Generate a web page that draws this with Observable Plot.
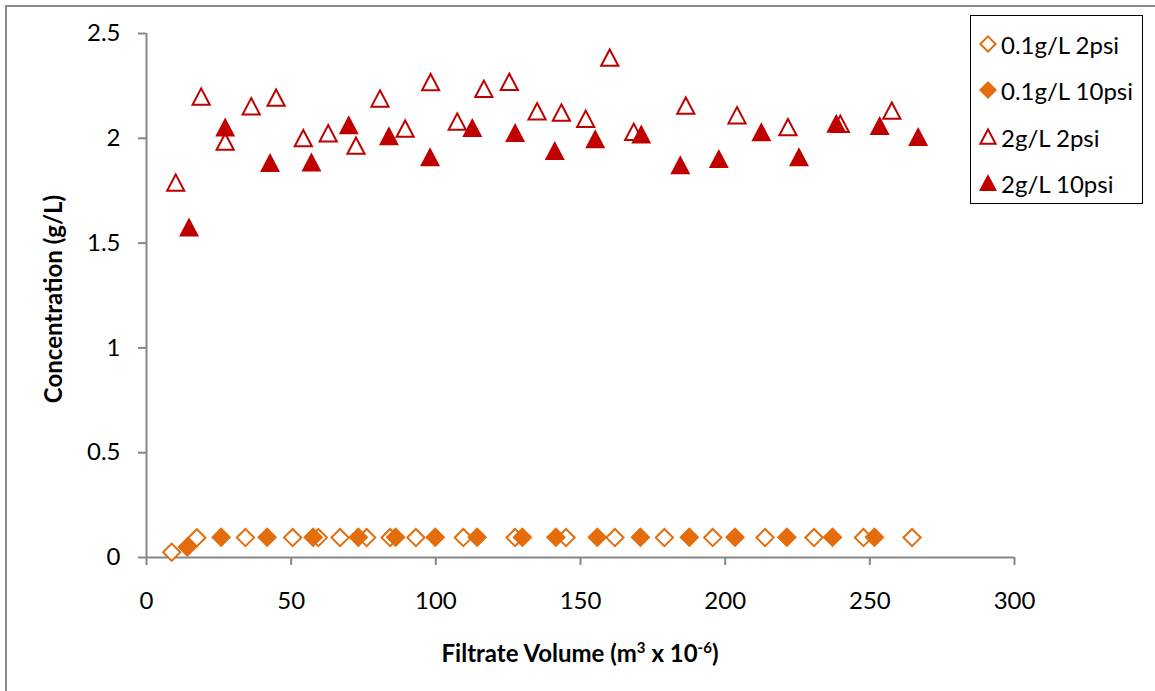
<!DOCTYPE html>
<html>
<head>
<meta charset="utf-8">
<script src="https://cdn.jsdelivr.net/npm/d3@7"></script>
<script src="https://cdn.jsdelivr.net/npm/@observablehq/plot@0.6"></script>
<style>
  body { margin: 0; background: #fff; }
  #wrap { position: relative; width: 1155px; height: 691px; font-family: Lato, "Open Sans", sans-serif; overflow: hidden; }
  #edge { position: absolute; left: 5px; top: 5px; right: -4px; bottom: -4px; border-left: 2px solid #8a8a8a; border-top: 2px solid #8a8a8a; }
  #chart { position: absolute; left: 0; top: 0; }
  #legend { position: absolute; left: 970px; top: 15px; width: 173px; height: 189px; box-sizing: border-box; border: 1.5px solid #000; background: #fff; }
  .row { position: absolute; left: 0; height: 30px; display: flex; align-items: center; font-size: 24px; color: #000; white-space: nowrap; }
  .row svg { margin-left: 8px; margin-right: 4px; overflow: visible; }
</style>
</head>
<body>
<div id="wrap">
  <div id="edge"></div>
  <div id="chart"></div>
  <div id="legend"></div>
</div>
<script>
// Filtrate volume (m^3 x 10^-6) and permeate concentration (g/L) for each run
const vol_01_2psi  = [8.7, 17.4, 34.2, 50.5, 59.4, 66.9, 76.1, 84.2, 93.1, 109.5, 127.4, 145.0, 161.9, 179.0, 195.7, 213.8, 230.7, 247.8, 264.6];
const conc_01_2psi = [0.025, 0.094, 0.095, 0.095, 0.095, 0.095, 0.095, 0.095, 0.095, 0.095, 0.095, 0.095, 0.095, 0.095, 0.095, 0.095, 0.095, 0.095, 0.095];

const vol_01_10psi  = [14.1, 25.8, 41.7, 57.6, 73.2, 86.1, 99.8, 114.3, 129.9, 141.5, 155.8, 170.7, 187.6, 203.4, 221.3, 237.1, 251.6];
const conc_01_10psi = [0.05, 0.097, 0.097, 0.097, 0.097, 0.097, 0.097, 0.097, 0.097, 0.097, 0.097, 0.097, 0.097, 0.097, 0.097, 0.097, 0.097];

const vol_2_2psi  = [10.1, 18.9, 27.2, 36.2, 44.8, 54.2, 62.8, 72.4, 80.7, 89.4, 98.2, 107.4, 116.6, 125.4, 135.0, 143.4, 151.8, 160.1, 168.4, 186.4, 204.1, 221.7, 239.8, 257.6];
const conc_2_2psi = [1.787, 2.197, 1.982, 2.151, 2.192, 1.999, 2.022, 1.963, 2.188, 2.044, 2.266, 2.078, 2.234, 2.267, 2.127, 2.121, 2.091, 2.383, 2.029, 2.154, 2.108, 2.051, 2.067, 2.130];

const vol_2_10psi  = [14.7, 27.2, 42.7, 57.0, 69.9, 83.8, 98.0, 112.6, 127.4, 141.1, 155.1, 171.0, 184.5, 197.8, 212.5, 225.5, 238.4, 253.4, 266.7];
const conc_2_10psi = [1.574, 2.051, 1.882, 1.884, 2.062, 2.010, 1.909, 2.049, 2.025, 1.939, 1.995, 2.018, 1.871, 1.901, 2.029, 1.909, 2.070, 2.059, 2.006];

const seriesNames = ["0.1g/L 2psi", "0.1g/L 10psi", "2g/L 2psi", "2g/L 10psi"];
const xTicks = [0, 50, 100, 150, 200, 250, 300];
const yTicks = [0, 0.5, 1, 1.5, 2, 2.5];

const ORANGE = "#E46C0A";
const RED = "#C00000";
const AXIS = "#868686";

// Marker shapes: r is the half-width of the glyph
const triangle = {
  draw(ctx, size) {
    const r = Math.sqrt(size / Math.PI);
    ctx.moveTo(0, -r);
    ctx.lineTo(r, 0.9 * r);
    ctx.lineTo(-r, 0.9 * r);
    ctx.closePath();
  }
};
const diamond = {
  draw(ctx, size) {
    const r = Math.sqrt(size / Math.PI);
    ctx.moveTo(0, -r);
    ctx.lineTo(r, 0);
    ctx.lineTo(0, r);
    ctx.lineTo(-r, 0);
    ctx.closePath();
  }
};

const toRows = (xs, ys) => xs.map((v, i) => ({volume: v, conc: ys[i]}));

const styles = [
  {data: toRows(vol_01_2psi, conc_01_2psi),   symbol: diamond,  color: ORANGE, open: true},
  {data: toRows(vol_01_10psi, conc_01_10psi), symbol: diamond,  color: ORANGE, open: false},
  {data: toRows(vol_2_2psi, conc_2_2psi),     symbol: triangle, color: RED,    open: true},
  {data: toRows(vol_2_10psi, conc_2_10psi),   symbol: triangle, color: RED,    open: false}
];

const dotMark = s => Plot.dot(s.data, {
  x: "volume", y: "conc", symbol: () => s.symbol,
  r: s.open ? 8.6 : 10,
  fill: s.open ? "#fff" : s.color,
  stroke: s.open ? s.color : "none",
  strokeWidth: s.open ? 2 : 0
});

const chart = Plot.plot({
  width: 1155,
  height: 691,
  marginLeft: 146,
  marginRight: 141,
  marginTop: 33,
  marginBottom: 134,
  x: {domain: [0, 300]},
  y: {domain: [0, 2.5]},
  symbol: {type: "identity"},
  style: {fontFamily: "Lato, 'Open Sans', sans-serif", fontSize: "24px", color: "#000", background: "transparent"},
  marks: [
    Plot.axisY({ticks: yTicks, tickFormat: d => String(d), tickSize: 8, tickPadding: 18, label: null, stroke: AXIS, strokeWidth: 2, fill: "#000"}),
    Plot.axisX({ticks: xTicks, tickFormat: d => String(d), tickSize: 8, tickPadding: 26, label: null, stroke: AXIS, strokeWidth: 2, fill: "#000"}),
    Plot.ruleX([0], {stroke: AXIS, strokeWidth: 2}),
    Plot.ruleY([0], {stroke: AXIS, strokeWidth: 2}),
    ...styles.map(dotMark)
  ]
});

document.getElementById("chart").appendChild(chart);

// Axis titles with superscripts
const svg = d3.select(chart);
const xr = chart.scale("x").range;
const yr = chart.scale("y").range;

const xt = svg.append("text")
  .attr("x", (xr[0] + xr[1]) / 2)
  .attr("y", 662)
  .attr("text-anchor", "middle")
  .attr("font-weight", "bold")
  .attr("font-size", 24)
  .attr("fill", "#000");
xt.append("tspan").text("Filtrate Volume (m");
xt.append("tspan").attr("dy", -9).attr("font-size", 15).text("3");
xt.append("tspan").attr("dy", 9).text(" x 10");
xt.append("tspan").attr("dy", -9).attr("font-size", 15).text("-6");
xt.append("tspan").attr("dy", 9).text(")");

svg.append("text")
  .attr("transform", `translate(62,${(yr[0] + yr[1]) / 2 + 4}) rotate(-90)`)
  .attr("text-anchor", "middle")
  .attr("font-weight", "bold")
  .attr("font-size", 24)
  .attr("fill", "#000")
  .text("Concentration (g/L)");

// Legend
const legend = d3.select("#legend");
const rowTops = [13, 59, 106, 152];
styles.forEach((s, i) => {
  const row = legend.append("div").attr("class", "row").style("top", rowTops[i] + "px");
  row.append("svg").attr("width", 18).attr("height", 18)
    .append("path")
    .attr("transform", "translate(9,9)")
    .attr("d", d3.symbol().type(s.symbol).size(Math.PI * (s.open ? 7.6 : 9) ** 2)())
    .attr("fill", s.open ? "#fff" : s.color)
    .attr("stroke", s.open ? s.color : "none")
    .attr("stroke-width", s.open ? 2 : 0);
  row.append("span").text(seriesNames[i]);
});
</script>
</body>
</html>
